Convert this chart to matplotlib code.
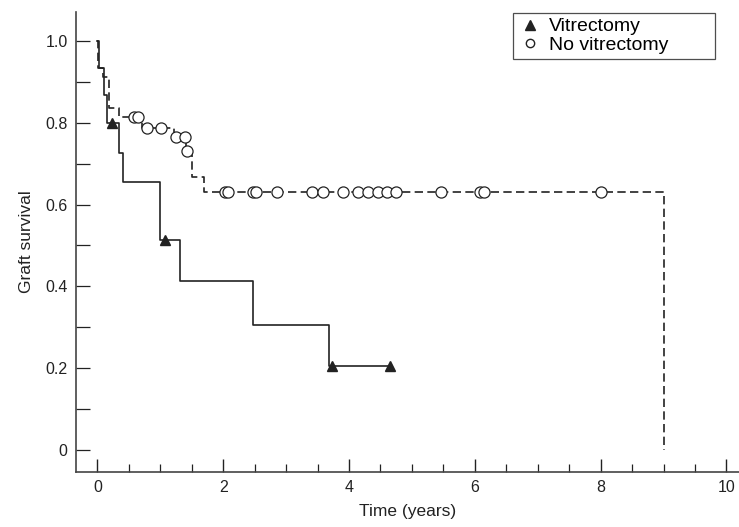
import numpy as np
import matplotlib
matplotlib.use("Agg")
import matplotlib.pyplot as plt
from matplotlib.lines import Line2D
from matplotlib.ticker import MultipleLocator

plt.rcParams['font.family'] = ['Liberation Sans', 'DejaVu Sans']

# Kaplan-Meier steps
vit_times = [0, 0.03, 0.10, 0.16, 0.35, 0.41, 0.99, 1.31, 2.48, 3.69, 4.65]
vit_surv = [1.0, 0.933, 0.867, 0.80, 0.727, 0.655, 0.513, 0.413, 0.306, 0.204, 0.204]
vit_cens = [0.23, 1.08, 3.73, 4.65]

novit_times = [0, 0.01, 0.09, 0.18, 0.34, 0.71, 1.22, 1.41, 1.50, 1.69, 9.0]
novit_surv = [1.0, 0.935, 0.911, 0.836, 0.815, 0.787, 0.766, 0.731, 0.668, 0.632, 0.0]
novit_cens = [0.58, 0.64, 0.79, 1.01, 1.25, 1.39, 1.43, 2.03, 2.08, 2.47, 2.52,
              2.85, 3.41, 3.59, 3.90, 4.15, 4.31, 4.46, 4.61, 4.74, 5.47,
              6.09, 6.14, 8.01]


def surv_at(times, surv, t):
    i = np.searchsorted(times, t, side='right') - 1
    return np.array(surv)[i]


ink = '#222222'
fig = plt.figure(figsize=(7.39, 5.27), dpi=100)
ax = fig.add_axes([0.1028, 0.1044, 0.8972, 0.8728])

ax.step(vit_times, vit_surv, where='post', color=ink, lw=1.2)
ax.plot(vit_cens, surv_at(vit_times, vit_surv, vit_cens), '^', color=ink,
        ms=7, ls='none', zorder=3)

ax.step(novit_times, novit_surv, where='post', color=ink, lw=1.2,
        linestyle=(0, (5, 2.6)))
ax.plot(novit_cens, surv_at(novit_times, novit_surv, novit_cens), 'o',
        mfc='white', mec=ink, mew=0.9, ms=8, ls='none', zorder=3)

ax.set_xlim(-0.34, 10.2)
ax.set_ylim(-0.054, 1.071)
ax.xaxis.set_major_locator(MultipleLocator(2))
ax.xaxis.set_minor_locator(MultipleLocator(0.5))
ax.set_yticks([0, 0.2, 0.4, 0.6, 0.8, 1.0])
ax.set_yticklabels(['0', '0.2', '0.4', '0.6', '0.8', '1.0'])
ax.yaxis.set_minor_locator(MultipleLocator(0.1))

ax.tick_params(axis='x', which='major', direction='in', length=9.5, width=1,
               pad=6, labelsize=11.5, colors=ink)
ax.tick_params(axis='x', which='minor', direction='in', length=5.5, width=0.9,
               colors=ink)
ax.tick_params(axis='y', which='both', direction='in', length=10, width=0.9,
               pad=6, labelsize=11.5, colors=ink)

for s in ['top', 'right']:
    ax.spines[s].set_visible(False)
for s in ['left', 'bottom']:
    ax.spines[s].set_color('#444444')
    ax.spines[s].set_linewidth(1.2)

ax.set_xlabel('Time (years)', fontsize=12.5, labelpad=6, color=ink)
ax.set_ylabel('Graft survival', fontsize=12.5, labelpad=8, color=ink)

handles = [Line2D([], [], marker='^', color=ink, ls='none', ms=7),
           Line2D([], [], marker='o', mfc='white', mec=ink, ls='none', ms=6)]
leg = ax.legend(handles, ['Vitrectomy', 'No vitrectomy'], loc='upper left',
                bbox_to_anchor=(0.659, 0.998, 0.305, 0), mode='expand',
                fontsize=14, frameon=True, fancybox=False, borderpad=0.25,
                handletextpad=0.3, handlelength=1.3, labelspacing=0.05,
                borderaxespad=0)
leg.get_frame().set_edgecolor(ink)
leg.get_frame().set_linewidth(0.9)

plt.savefig('out.png', dpi=100)
